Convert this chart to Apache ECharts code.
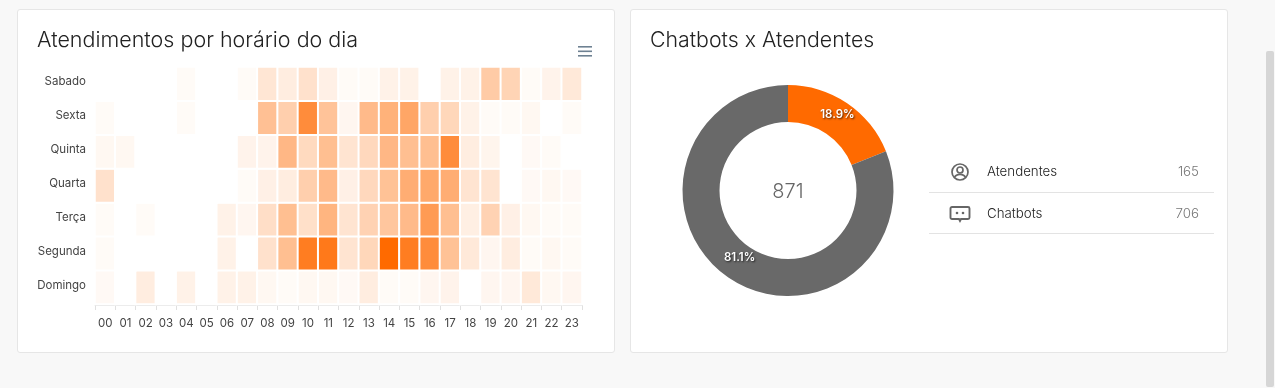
<!DOCTYPE html>
<html>
<head>
<meta charset="utf-8">
<title>Atendimentos</title>
<script src="https://cdn.jsdelivr.net/npm/echarts@6/dist/echarts.min.js"></script>
<style>
  html, body { margin: 0; padding: 0; width: 1275px; height: 388px; overflow: hidden; background: #f8f8f8; }
  body { font-family: Inter, "Noto Sans", sans-serif; font-weight: 300; position: relative; }
  .card { position: absolute; top: 9px; height: 342px; background: #fff; border: 1px solid #e6e6e6; border-radius: 3px; box-sizing: content-box; }
  #heatCard { left: 17px; width: 596px; }
  #donutCard { left: 630px; width: 596px; }
  #heatChart, #donutChart { position: absolute; left: 0; top: 0; width: 100%; height: 100%; }
  .list { position: absolute; left: 298px; top: 141px; width: 285px; }
  .row { position: relative; height: 40.5px; border-bottom: 1px solid #e3e3e3; font-size: 13.3px; color: #222; }
  .row svg { position: absolute; left: 21px; top: 11px; }
  .row + .row svg { left: 20px; }
  .row .name { position: absolute; left: 58px; top: 12px; }
  .row .val { position: absolute; right: 15px; top: 12px; color: #777; }
  .scroll { position: absolute; left: 1266px; top: 51px; width: 7.5px; height: 336px; background: #d6d6d6; border-radius: 2px; }
</style>
</head>
<body>
<div class="card" id="heatCard"><div id="heatChart"></div></div>
<div class="card" id="donutCard">
  <div id="donutChart"></div>
  <div class="list" id="list"></div>
</div>
<div class="scroll"></div>
<script>
const hours = ['00','01','02','03','04','05','06','07','08','09','10','11','12','13','14','15','16','17','18','19','20','21','22','23']
// de baixo para cima, como no eixo
const days = ['Domingo','Segunda','Terça','Quarta','Quinta','Sexta','Sabado']

const domingo = [4,0,12,0,9,0,9,9,5,3,5,5,4,12,3,3,6,8,0,6,6,15,5,6]
const segunda = [3,0,0,0,0,0,9,0,20,43,87,90,18,27,100,87,77,41,15,6,12,3,5,3]
const terca   = [3,0,3,0,0,0,9,6,22,43,21,50,18,30,38,46,67,43,11,30,10,5,3,3]
const quarta  = [20,0,0,0,0,0,0,3,10,12,32,46,10,26,41,55,58,55,18,18,0,4,5,4]
const quinta  = [5,5,0,0,0,0,0,8,8,48,25,43,18,26,48,43,43,77,12,7,0,4,3,0]
const sexta   = [3,0,0,0,3,0,0,0,42,32,77,40,6,46,52,60,32,27,9,3,3,5,0,3]
const sabado  = [0,0,0,0,3,0,0,3,17,12,20,10,3,3,9,9,0,9,9,35,29,3,8,15]
const rows = [domingo, segunda, terca, quarta, quinta, sexta, sabado]

const donutNames = ['Atendentes','Chatbots']
const donutValues = [165,706]

const fontName = 'Inter'

// heatmap
const heatData = []
rows.forEach((row, y) => row.forEach((v, x) => heatData.push([x, y, v])))

const heatChart = echarts.init(document.getElementById('heatChart'))
heatChart.setOption({
  animation: false,
  textStyle: { fontFamily: fontName },
  title: {
    text: 'Atendimentos por horário do dia',
    left: 14,
    top: 15,
    textStyle: { fontSize: 21.5, fontWeight: 300, color: '#222', fontFamily: fontName }
  },
  grid: { left: 77, right: 32, top: 57, bottom: 48 },
  xAxis: {
    type: 'category',
    data: hours,
    offset: 1,
    axisLine: { show: true, lineStyle: { color: '#e6e6e6' } },
    axisTick: { show: true, length: 5, alignWithLabel: false, lineStyle: { color: '#e0e0e0' } },
    axisLabel: { interval: 0, fontSize: 11.5, color: '#444', margin: 13 },
    splitLine: { show: false }
  },
  yAxis: {
    type: 'category',
    data: days,
    axisLine: { show: false },
    axisTick: { show: false },
    // os rótulos ficam um pouco acima do centro da linha
    axisLabel: { fontSize: 11.5, color: '#444', margin: 9, verticalAlign: 'bottom', lineHeight: 4 },
    splitLine: { show: false }
  },
  visualMap: {
    show: false,
    min: 0,
    max: 100,
    inRange: { color: ['#ffffff', '#ff6a00'] }
  },
  series: [{
    type: 'heatmap',
    data: heatData,
    itemStyle: { borderColor: '#fff', borderWidth: 2 }
  }],
  graphic: [{
    type: 'group',
    right: 22,
    top: 36,
    children: [0, 4.5, 9].map(y => ({
      type: 'rect',
      shape: { x: 0, y: y, width: 14, height: 1.6 },
      style: { fill: '#6e8192' }
    }))
  }]
})

// donut
const total = donutValues.reduce((a, b) => a + b, 0)
const labelShiftY = [-1, -7]
const labelShiftX = [-1, 2]
const donutChart = echarts.init(document.getElementById('donutChart'))
donutChart.setOption({
  animation: false,
  textStyle: { fontFamily: fontName },
  title: [{
    text: 'Chatbots x Atendentes',
    left: 14,
    top: 15,
    textStyle: { fontSize: 21.3, fontWeight: 300, color: '#222', fontFamily: fontName }
  }, {
    text: String(total),
    left: 152,
    top: 167,
    textAlign: 'center',
    textStyle: { fontSize: 20, fontWeight: 300, color: '#666', fontFamily: fontName }
  }],
  series: [{
    type: 'pie',
    center: [157, 180.5],
    radius: [68.5, 105.5],
    startAngle: 90,
    clockwise: true,
    data: donutNames.map((n, i) => ({ name: n, value: donutValues[i] })),
    color: ['#ff6a00', '#696969'],
    label: {
      position: 'inside',
      formatter: p => p.percent.toFixed(1) + '%',
      fontSize: 11.5,
      fontWeight: 600,
      color: '#fff',
      textShadowColor: 'rgba(0,0,0,0.7)',
      textShadowBlur: 2,
      textShadowOffsetX: 1,
      textShadowOffsetY: 1
    },
    labelLine: { show: false },
    labelLayout: p => ({ dx: labelShiftX[p.dataIndex], dy: labelShiftY[p.dataIndex] })
  }]
})

// lista ao lado do donut
const icons = [
  '<svg width="20" height="20" viewBox="0 0 20 20" fill="none" stroke="#666" stroke-width="1.7"><circle cx="10" cy="10" r="8"/><circle cx="10" cy="8" r="3"/><path d="M4.500 15.500c1-2.500 3-3.200 5.500-3.200s4.500 .7 5.500 3.200"/></svg>',
  '<svg width="22" height="20" viewBox="0 0 22 20" fill="none" stroke="#666" stroke-width="1.9"><path d="M3 3h5M14 3h5a1.500 1.500 0 0 1 1.500 1.500v9a1.500 1.500 0 0 1-1.500 1.500h-7l-1 2-1-2h-7a1.500 1.500 0 0 1-1.500-1.500v-9a1.500 1.500 0 0 1 1.500-1.500z"/><circle cx="8" cy="9" r="1.300" fill="#666" stroke="none"/><circle cx="14" cy="9" r="1.300" fill="#666" stroke="none"/></svg>'
]
document.getElementById('list').innerHTML = donutNames.map((n, i) =>
  '<div class="row">' + icons[i] + '<span class="name">' + n + '</span><span class="val">' + donutValues[i] + '</span></div>'
).join('')
</script>
</body>
</html>
